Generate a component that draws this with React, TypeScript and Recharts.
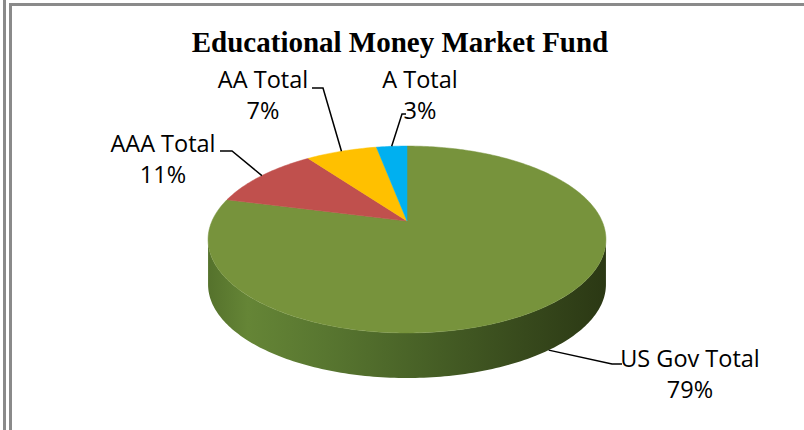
import React from 'react';
import { PieChart, Pie } from 'recharts';

// ---- data ----
const CATEGORIES = ['US Gov Total', 'AAA Total', 'AA Total', 'A Total'];
const VALUES = [79, 11, 7, 3];
const COLORS = ['#77933c', '#c0504d', '#ffc000', '#00b0f0'];
const TITLE = 'Educational Money Market Fund';

const data = CATEGORIES.map((name, i) => ({ name, value: VALUES[i] }));

// ---- 3D look (layout constants) ----
const TILT = 0.4605; // vertical squash of the disc
const PERSP = 0.198; // perspective strength
const DEPTH = 45; // thickness of the disc in px
const PHI_L = (Math.acos(-PERSP) * 180) / Math.PI; // silhouette start (clockwise from top)
const PHI_R = 360 - PHI_L;
const LABEL_FONT = 23.5;

// label text placement (centre x, first baseline y) and elbow points of leader lines
const LABEL_LAYOUT = [
  { x: 690, y: 367, elbow: [[612, 364], [622, 364]] },
  { x: 163, y: 152, elbow: [[232, 151], [220, 151]] },
  { x: 263, y: 88, elbow: [[323, 88], [312, 88]] },
  { x: 420, y: 88, elbow: [[402, 114], [406, 114]] },
];

const proj = (cx: number, cy: number, r: number, phiDeg: number, depth: number) => {
  const p = (phiDeg * Math.PI) / 180;
  const u = Math.sin(p);
  const v = Math.cos(p);
  const d = 1 + PERSP * v;
  return [cx + (r * u) / d, cy - (r * TILT * v) / d + depth];
};

const arcPoints = (cx: number, cy: number, r: number, a: number, b: number, depth: number) => {
  const n = Math.max(2, Math.ceil(Math.abs(b - a)));
  const pts: number[][] = [];
  for (let i = 0; i <= n; i++) {
    pts.push(proj(cx, cy, r, a + ((b - a) * i) / n, depth));
  }
  return pts;
};

const renderSlice = (props: any) => {
  const { cx, cy, outerRadius, startAngle, endAngle, index } = props;
  const p1 = 90 - startAngle;
  const p2 = 90 - endAngle;
  const color = COLORS[index % COLORS.length];
  const top = arcPoints(cx, cy, outerRadius, p1, p2, 0);
  const topD = `M${cx},${cy} ` + top.map((p) => `L${p[0].toFixed(2)},${p[1].toFixed(2)}`).join(' ') + ' Z';
  let side: React.ReactNode = null;
  const lo = Math.max(p1, PHI_L);
  const hi = Math.min(p2, PHI_R);
  const rx = outerRadius / Math.sqrt(1 - PERSP * PERSP);
  if (hi > lo) {
    const upper = arcPoints(cx, cy, outerRadius, lo, hi, 0);
    const lower = arcPoints(cx, cy, outerRadius, hi, lo, DEPTH);
    const pts = upper.concat(lower);
    const d = 'M' + pts.map((p) => `${p[0].toFixed(2)},${p[1].toFixed(2)}`).join(' L') + ' Z';
    side = (
      <g>
        <defs>
          <linearGradient id={`side-${index}`} gradientUnits="userSpaceOnUse" x1={cx - rx} y1={0} x2={cx + rx} y2={0}>
            <stop offset="0" stopColor="#55722c" />
            <stop offset="0.1" stopColor="#658536" />
            <stop offset="0.3" stopColor="#587630" />
            <stop offset="0.55" stopColor="#476026" />
            <stop offset="0.8" stopColor="#37491c" />
            <stop offset="1" stopColor="#2b3814" />
          </linearGradient>
        </defs>
        <path d={d} fill={`url(#side-${index})`} stroke="none" />
      </g>
    );
  }
  return (
    <g key={`slice-${index}`}>
      {side}
      <path d={topD} fill={color} stroke={color} strokeWidth={0.5} />
    </g>
  );
};

const renderCallout = (props: any) => {
  const { cx, cy, outerRadius, startAngle, endAngle, index, percent } = props;
  let phi = 90 - (startAngle + endAngle) / 2;
  phi = ((phi % 360) + 360) % 360;
  const front = Math.cos((phi * Math.PI) / 180) < -PERSP;
  const [px, py] = proj(cx, cy, outerRadius, phi, front ? DEPTH : 0);
  const L = LABEL_LAYOUT[index];
  const pts = [[px, py], ...L.elbow].map((p) => `${p[0]},${p[1]}`).join(' ');
  const pct = `${Math.round(percent * 100)}%`;
  return (
    <g key={`callout-${index}`}>
      <polyline points={pts} fill="none" stroke="#000" strokeWidth={1.5} />
      <text x={L.x} y={L.y} textAnchor="middle" fontFamily="'Open Sans', sans-serif" fontSize={LABEL_FONT} fill="#000">
        {CATEGORIES[index]}
      </text>
      <text x={L.x} y={L.y + 31} textAnchor="middle" fontFamily="'Open Sans', sans-serif" fontSize={LABEL_FONT} fill="#000">
        {pct}
      </text>
    </g>
  );
};

export default function App() {
  return (
    <div style={{ position: 'absolute', left: 0, top: 0, width: 804, height: 430, background: '#fff' }}>
      <div style={{ position: 'absolute', left: 0, top: 0 }}>
        <PieChart width={804} height={430} margin={{ top: 0, right: 0, bottom: 0, left: 0 }}>
          <Pie
            data={data}
            dataKey="value"
            nameKey="name"
            cx={407}
            cy={221}
            outerRadius={195}
            startAngle={90}
            endAngle={-270}
            fill="transparent"
            stroke="none"
            isAnimationActive={false}
            label={renderSlice}
            labelLine={false}
          />
          <Pie
            data={data}
            dataKey="value"
            nameKey="name"
            cx={407}
            cy={221}
            outerRadius={195}
            startAngle={90}
            endAngle={-270}
            fill="transparent"
            stroke="none"
            isAnimationActive={false}
            label={renderCallout}
            labelLine={false}
          />
        </PieChart>
      </div>
      <svg width={804} height={430} style={{ position: 'absolute', left: 0, top: 0, pointerEvents: 'none' }}>
        <rect x={3} y={0} width={3} height={430} fill="#8a8a8a" />
        <rect x={9} y={3} width={3} height={427} fill="#8a8a8a" />
        <rect x={9} y={3} width={795} height={3} fill="#8a8a8a" />
        <text x={400} y={52} textAnchor="middle" fontFamily="'Liberation Serif', 'Times New Roman', serif" fontWeight="bold" fontSize={29} fill="#000">
          {TITLE}
        </text>
      </svg>
    </div>
  );
}
